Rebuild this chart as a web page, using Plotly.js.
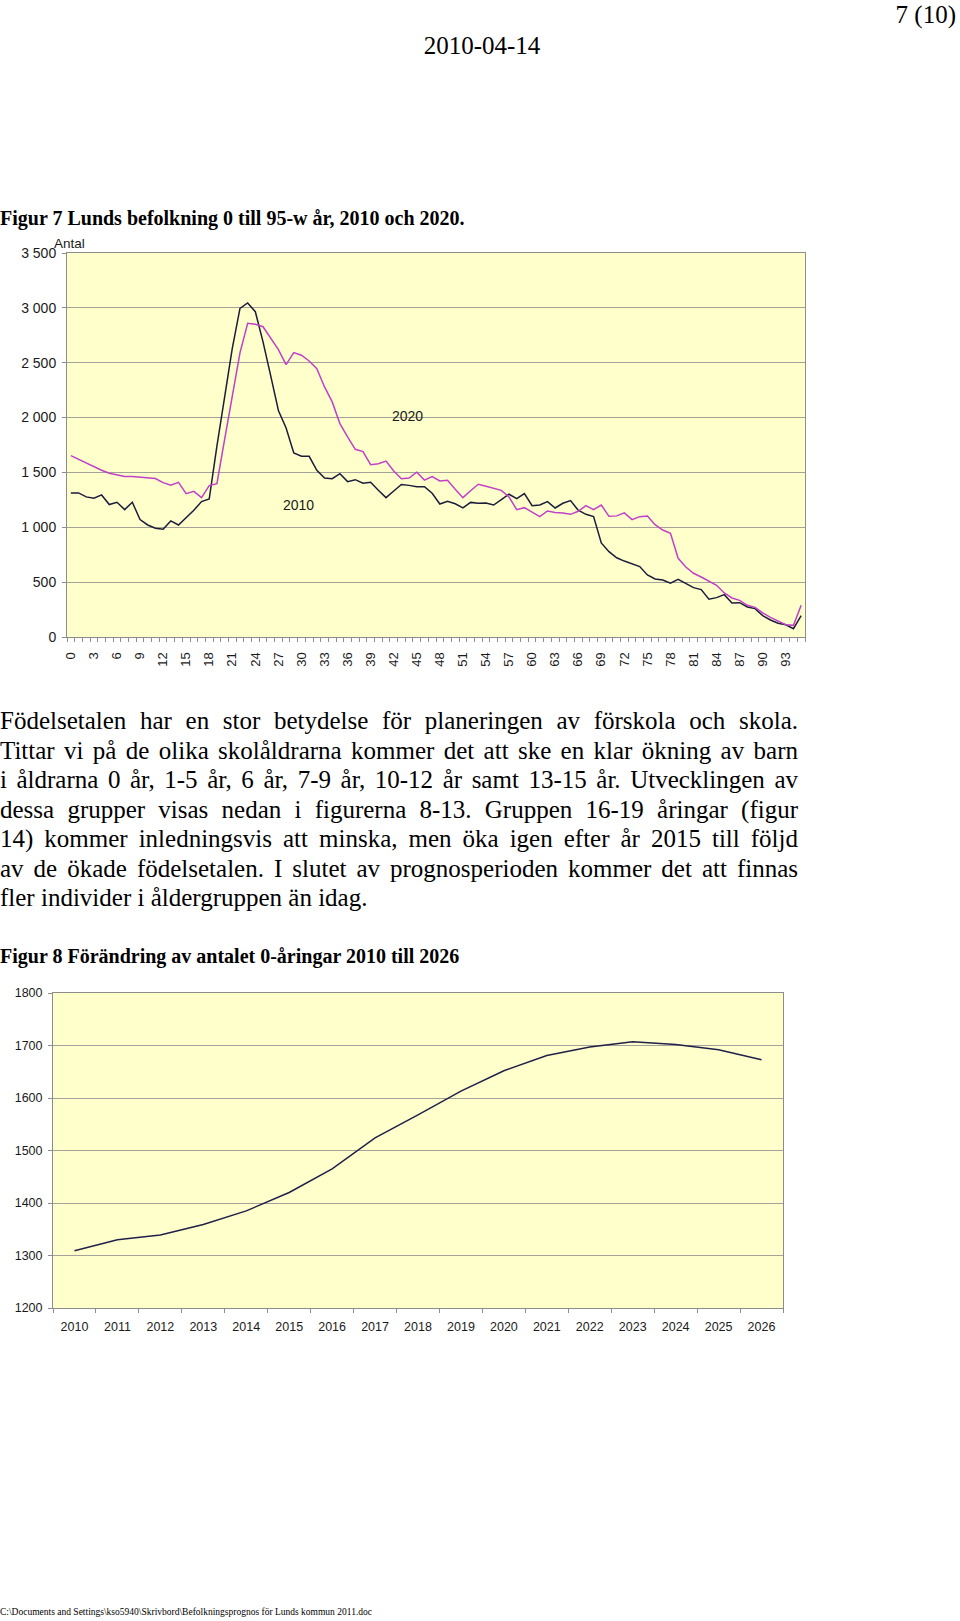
<!DOCTYPE html>
<html><head><meta charset="utf-8">
<script src="https://cdn.plot.ly/plotly-3.0.1.min.js"></script>
<style>
html,body{margin:0;padding:0;background:#fff;}
#page{position:relative;width:960px;height:1621px;overflow:hidden;font-family:"Liberation Serif","Times New Roman",serif;color:#000;}
.t{position:absolute;white-space:nowrap;}
.line{position:absolute;left:0;white-space:nowrap;font-size:25px;line-height:30px;}
.line span{display:inline-block;white-space:nowrap;}
</style></head><body><div id="page">
<div class="t" style="right:4px;top:1px;font-size:25px;line-height:28px;">7 (10)</div>
<div class="t" style="left:0;width:964px;text-align:center;top:30px;font-size:25px;line-height:32px;">2010-04-14</div>
<div class="t" style="left:0;top:205px;font-size:20px;font-weight:bold;line-height:26px;">Figur 7 Lunds befolkning 0 till 95-w år, 2010 och 2020.</div>
<div id="chart1" style="position:absolute;left:0;top:230px;width:960px;height:450px;"></div>
<div id="para"></div>
<div class="t" style="left:0;top:943px;font-size:20px;font-weight:bold;line-height:26px;">Figur 8 Förändring av antalet 0-åringar 2010 till 2026</div>
<div id="chart2" style="position:absolute;left:0;top:960px;width:960px;height:400px;"></div>
<div class="t" style="left:0;top:1605px;font-size:9.5px;line-height:14px;">C:\Documents and Settings\kso5940\Skrivbord\Befolkningsprognos för Lunds kommun 2011.doc</div>
</div>
<script>
// ---------- Data: Figur 7 ----------
const ages = [0,1,2,3,4,5,6,7,8,9,10,11,12,13,14,15,16,17,18,19,20,21,22,23,24,25,26,27,28,29,30,31,32,33,34,35,36,37,38,39,40,41,42,43,44,45,46,47,48,49,50,51,52,53,54,55,56,57,58,59,60,61,62,63,64,65,66,67,68,69,70,71,72,73,74,75,76,77,78,79,80,81,82,83,84,85,86,87,88,89,90,91,92,93,94,95];
const pop2010 = [1313,1313,1277,1265,1295,1207,1228,1161,1228,1070,1021,991,982,1058,1021,1088,1155,1234,1258,1740,2200,2630,2995,3045,2965,2690,2380,2065,1905,1677,1647,1647,1519,1449,1443,1489,1416,1434,1401,1410,1337,1270,1331,1390,1382,1370,1370,1310,1212,1236,1214,1177,1227,1219,1222,1203,1252,1301,1261,1307,1197,1203,1234,1176,1219,1243,1155,1118,1097,857,778,722,692,666,642,566,529,520,490,526,487,450,432,344,359,386,310,313,274,259,195,155,125,112,76,195];
const pop2020 = [1653,1620,1587,1550,1520,1492,1477,1462,1462,1456,1450,1444,1407,1383,1410,1307,1328,1270,1380,1398,1800,2210,2590,2860,2850,2828,2720,2620,2482,2592,2568,2516,2446,2279,2143,1945,1824,1711,1690,1571,1580,1604,1513,1443,1449,1502,1430,1462,1422,1428,1347,1270,1333,1392,1374,1352,1337,1276,1161,1179,1140,1097,1149,1134,1131,1118,1146,1197,1161,1203,1100,1104,1131,1070,1097,1103,1024,975,945,717,638,581,547,511,471,401,356,334,289,270,219,179,143,112,106,289];
const seriesNames1 = ['2010','2020'];

// ---------- Data: Figur 8 ----------
const years = [2010,2011,2012,2013,2014,2015,2016,2017,2018,2019,2020,2021,2022,2023,2024,2025,2026];
const zeroYearOlds = [1309,1330,1339,1359,1385,1420,1465,1524,1568,1613,1652,1681,1697,1707,1702,1692,1673];

// ---------- Paragraph ----------
const paraLines = [
 'Födelsetalen har en stor betydelse för planeringen av förskola och skola.',
 'Tittar vi på de olika skolåldrarna kommer det att ske en klar ökning av barn',
 'i åldrarna 0 år, 1-5 år, 6 år, 7-9 år, 10-12 år samt 13-15 år. Utvecklingen av',
 'dessa grupper visas nedan i figurerna 8-13. Gruppen 16-19 åringar (figur',
 '14) kommer inledningsvis att minska, men öka igen efter år 2015 till följd',
 'av de ökade födelsetalen. I slutet av prognosperioden kommer det att finnas',
 'fler individer i åldergruppen än idag.'
];
const para = document.getElementById('para');
const paraWidth = 798, firstCenter = 721, lineStep = 29.5;
paraLines.forEach((txt, i) => {
  const d = document.createElement('div');
  d.className = 'line';
  d.style.top = (firstCenter + i*lineStep - 15) + 'px';
  const s = document.createElement('span');
  s.textContent = txt;
  d.appendChild(s);
  para.appendChild(d);
  if (i < paraLines.length - 1) {
    const w = s.getBoundingClientRect().width;
    const nsp = (txt.match(/ /g) || []).length;
    if (w > paraWidth) {
      s.style.letterSpacing = ((paraWidth - w) / txt.length) + 'px';
    } else if (nsp > 0) {
      s.style.wordSpacing = ((paraWidth - w) / nsp) + 'px';
    }
  }
});

const fontFam = 'Liberation Sans, Arial, Helvetica, sans-serif';
const axisCol = '#8c8c8c';
const gridCol = '#a3a39a';
const bg = '#FFFFCC';

// ---------- Chart 1 ----------
const traces1 = [
  {x: ages, y: pop2010, name: seriesNames1[0], type:'scatter', mode:'lines', line:{color:'#1c1c3c', width:1.5}},
  {x: ages, y: pop2020, name: seriesNames1[1], type:'scatter', mode:'lines', line:{color:'#c040c8', width:1.5}}
];
const layout1 = {
  width:960, height:450,
  margin:{l:67.3, r:154.7, t:22.7, b:43.4, pad:0},
  paper_bgcolor:'rgba(0,0,0,0)', plot_bgcolor:bg,
  showlegend:false,
  separators:'. ',
  font:{family:fontFam, size:14, color:'#1a1a1a'},
  xaxis:{range:[-0.5,95.5], tickmode:'linear', tick0:0, dtick:3, tickangle:-90,
    ticks:'outside', ticklen:9, tickcolor:'rgba(0,0,0,0)', tickfont:{size:13},
    showgrid:false, zeroline:false, showline:true, linecolor:axisCol, linewidth:1, mirror:true,
    minor:{tick0:-0.5, dtick:1, ticks:'outside', ticklen:4, tickcolor:axisCol, tickwidth:1, showgrid:false}},
  yaxis:{range:[0,3500], tickmode:'linear', tick0:0, dtick:500, tickformat:',',
    ticks:'outside', ticklen:4, tickcolor:axisCol, ticklabelstandoff:3, showgrid:true, gridcolor:gridCol, gridwidth:1,
    zeroline:false, showline:true, linecolor:axisCol, linewidth:1, mirror:true},
  annotations:[
    {xref:'paper', yref:'paper', x:0, y:1, xanchor:'center', yanchor:'middle', xshift:2, yshift:10, text:'Antal', showarrow:false, font:{size:13.5, color:'#1a1a1a'}},
    {xref:'x', yref:'y', x:43.8, y:2015, text:seriesNames1[1], showarrow:false, font:{size:14, color:'#1a1a1a'}},
    {xref:'x', yref:'y', x:29.6, y:1207, text:seriesNames1[0], showarrow:false, font:{size:14, color:'#1a1a1a'}}
  ]
};
Plotly.newPlot('chart1', traces1, layout1, {staticPlot:true, displayModeBar:false});

// ---------- Chart 2 ----------
const traces2 = [
  {x: years, y: zeroYearOlds, type:'scatter', mode:'lines', line:{color:'#20204a', width:1.5}}
];
const layout2 = {
  width:960, height:400,
  margin:{l:53.3, r:177.3, t:33.3, b:51.7, pad:0},
  paper_bgcolor:'rgba(0,0,0,0)', plot_bgcolor:bg,
  showlegend:false,
  font:{family:fontFam, size:12.5, color:'#1a1a1a'},
  xaxis:{range:[2009.5,2026.5], tickmode:'linear', tick0:2010, dtick:1,
    ticks:'outside', ticklen:7, tickcolor:'rgba(0,0,0,0)', tickfont:{size:12.5},
    showgrid:false, zeroline:false, showline:true, linecolor:axisCol, linewidth:1, mirror:true,
    minor:{tick0:2009.5, dtick:1, ticks:'outside', ticklen:4, tickcolor:axisCol, tickwidth:1, showgrid:false}},
  yaxis:{range:[1200,1800], tickmode:'linear', tick0:1200, dtick:100,
    ticks:'outside', ticklen:4, tickcolor:axisCol, ticklabelstandoff:3, showgrid:true, gridcolor:gridCol, gridwidth:1,
    zeroline:false, showline:true, linecolor:axisCol, linewidth:1, mirror:true}
};
Plotly.newPlot('chart2', traces2, layout2, {staticPlot:true, displayModeBar:false});
</script>
</body></html>
